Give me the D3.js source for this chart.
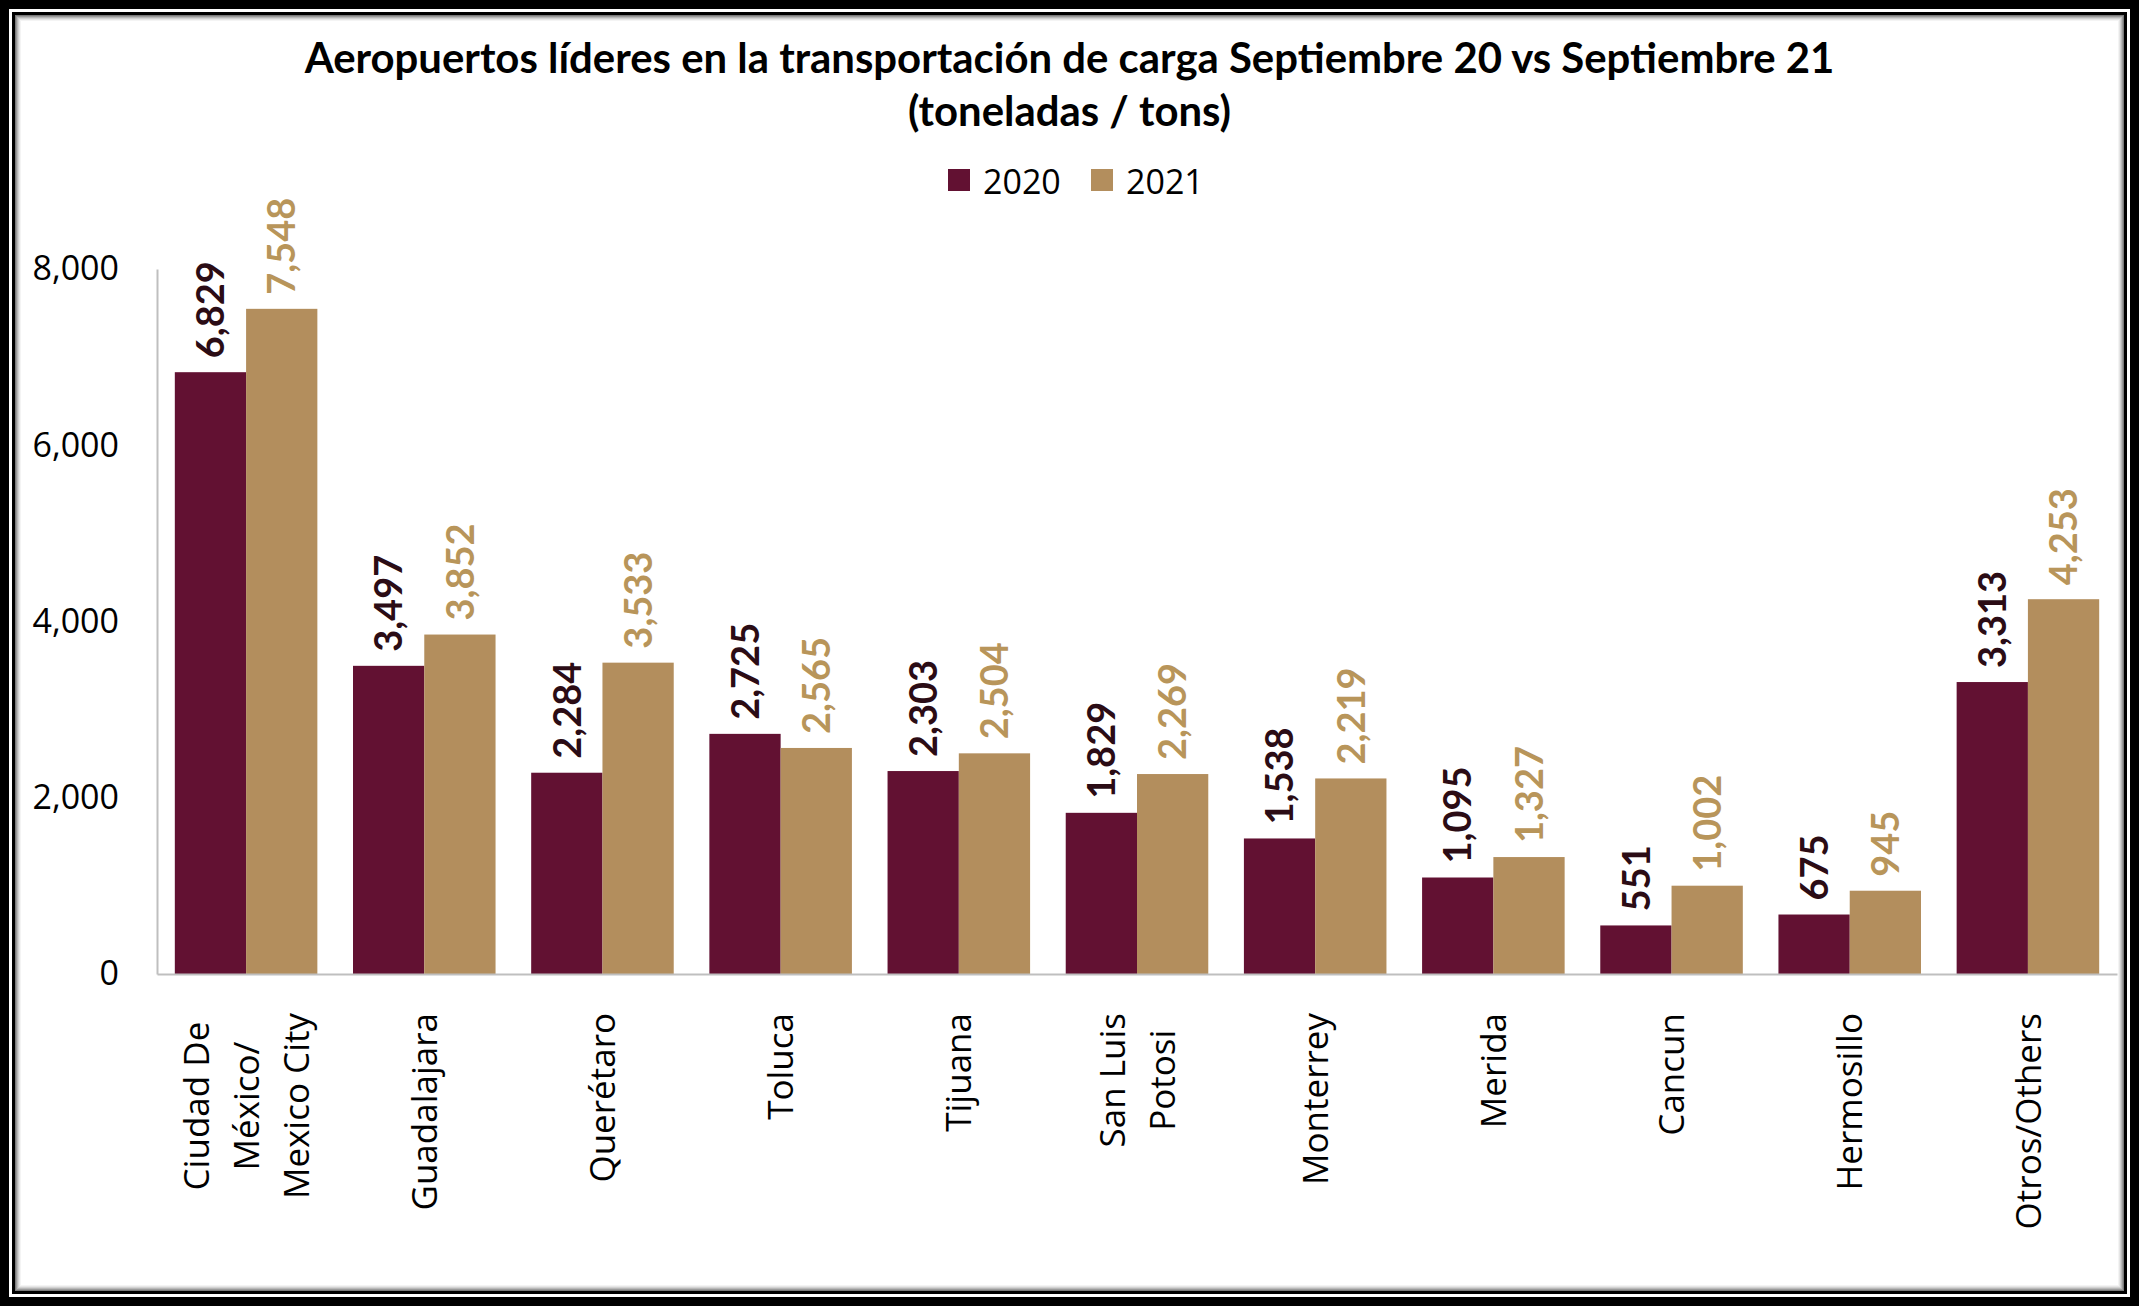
<!DOCTYPE html>
<html><head><meta charset="utf-8">
<script src="https://cdn.jsdelivr.net/npm/d3@7"></script>
<style>body{margin:0;background:#fff;} svg{display:block}</style>
</head><body><svg id="c" width="2139" height="1306"></svg>
<script>
const categories = [["Ciudad De","México/","Mexico City"],["Guadalajara"],["Querétaro"],["Toluca"],["Tijuana"],["San Luis","Potosi"],["Monterrey"],["Merida"],["Cancun"],["Hermosillo"],["Otros/Others"]];
const seriesNames = ["2020","2021"];
const values2020 = [6829,3497,2284,2725,2303,1829,1538,1095,551,675,3313];
const values2021 = [7548,3852,3533,2565,2504,2269,2219,1327,1002,945,4253];
const yTicks = [0,2000,4000,6000,8000];
const titleLines = ["Aeropuertos líderes en la transportación de carga Septiembre 20 vs Septiembre 21","(toneladas / tons)"];

const W = 2139, H = 1306;
const barColors = {"2020":"#621132","2021":"#b38e5d"};
const labelColors = {"2020":"#2b0c15","2021":"#b8955a"};
const svg = d3.select("#c");

// frame
svg.append("rect").attr("width",W).attr("height",H).attr("fill","#000");
svg.append("rect").attr("x",9).attr("y",9).attr("width",W-18).attr("height",H-18).attr("fill","#fff");
svg.append("rect").attr("x",12).attr("y",12).attr("width",W-24).attr("height",H-24).attr("fill","#000");
svg.append("rect").attr("x",15).attr("y",15).attr("width",W-30).attr("height",H-30).attr("fill","#fff");
const shadeCols = ["#7a7a7a","#9a9a9a","#b8b8b8","#d2d2d2","#e6e6e6","#f4f4f4"];
shadeCols.forEach((c,i)=>{
  svg.append("rect").attr("x",15.5+i).attr("y",15.5+i).attr("width",W-31-2*i).attr("height",H-31-2*i)
    .attr("fill","none").attr("stroke",c).attr("stroke-width",1);
});

// title
const titleFont = "Lato, 'Open Sans', sans-serif";
const t1 = svg.append("text").attr("x",W/2).attr("y",73).attr("text-anchor","middle")
  .style("font-family",titleFont).style("font-weight",700).style("font-size","37px").attr("fill","#000").text(titleLines[0]);
const t2 = svg.append("text").attr("x",W/2).attr("y",126).attr("text-anchor","middle")
  .style("font-family",titleFont).style("font-weight",700).style("font-size","37px").attr("fill","#000").text(titleLines[1]);
const tl = t1.node().getComputedTextLength();
if (tl > 0) {
  const fs = Math.max(30, Math.min(44, 37*1530/tl));
  t1.style("font-size", fs+"px"); t2.style("font-size", fs+"px");
}

// legend
const legendX = [948, 1091];
seriesNames.forEach((s,i)=>{
  svg.append("rect").attr("x",legendX[i]).attr("y",169).attr("width",22).attr("height",22).attr("fill",barColors[s]);
  svg.append("text").attr("x",legendX[i]+35).attr("y",194).style("font-family","'Open Sans', sans-serif")
    .style("font-size","34px").attr("fill","#000").text(s);
});

// scales
const x0 = d3.scaleBand().domain(d3.range(categories.length)).range([157,2117]).paddingInner(0.2).paddingOuter(0.1);
const x1 = d3.scaleBand().domain(seriesNames).range([0,x0.bandwidth()]);
const y = d3.scaleLinear().domain([0,8000]).range([974,269]);

// y axis
const yAxis = svg.append("g").attr("transform","translate(157,0)")
  .call(d3.axisLeft(y).tickValues(yTicks).tickSize(0).tickSizeOuter(0).tickPadding(38).tickFormat(d3.format(",")));
yAxis.select(".domain").attr("stroke","#bfbfbf").attr("stroke-width",2);
yAxis.selectAll("text").style("font-family","'Open Sans', sans-serif").style("font-size","34px").attr("fill","#000");

// bars
const data = [];
categories.forEach((c,i)=>{
  data.push({i, s:"2020", v:values2020[i]});
  data.push({i, s:"2021", v:values2021[i]});
});
svg.append("g").selectAll("rect").data(data).join("rect")
  .attr("x",d=>x0(d.i)+x1(d.s)).attr("width",x1.bandwidth())
  .attr("y",d=>y(d.v)).attr("height",d=>y(0)-y(d.v))
  .attr("fill",d=>barColors[d.s]);

// x axis line
const xAxis = svg.append("g").attr("transform","translate(0,974)")
  .call(d3.axisBottom(x0).tickSize(0).tickSizeOuter(0).tickFormat(""));
xAxis.select(".domain").attr("stroke","#bfbfbf").attr("stroke-width",2);

// value labels
svg.append("g").selectAll("text").data(data).join("text")
  .attr("transform",d=>`translate(${x0(d.i)+x1(d.s)+x1.bandwidth()/2},${y(d.v)-14}) rotate(-90)`)
  .attr("dy","0.36em").attr("text-anchor","start")
  .style("font-family","Lato, sans-serif").style("font-weight",700).style("font-size","38px")
  .attr("fill",d=>labelColors[d.s]).text(d=>d3.format(",")(d.v));

// category labels
const lineH = 50;
const catG = svg.append("g");
categories.forEach((lines,i)=>{
  const cx = x0(i)+x0.bandwidth()/2;
  const g = catG.append("g").attr("transform",`translate(${cx},1013) rotate(-90)`);
  const texts = lines.map((ln,k)=> g.append("text").attr("y",(k-(lines.length-1)/2)*lineH).attr("dy","0.36em")
    .attr("text-anchor","middle").style("font-family","'Open Sans', sans-serif").style("font-size","35px")
    .attr("fill","#000").text(ln));
  const maxW = d3.max(texts, t=>t.node().getComputedTextLength());
  texts.forEach(t=>t.attr("x",-maxW/2));
});
</script></body></html>
